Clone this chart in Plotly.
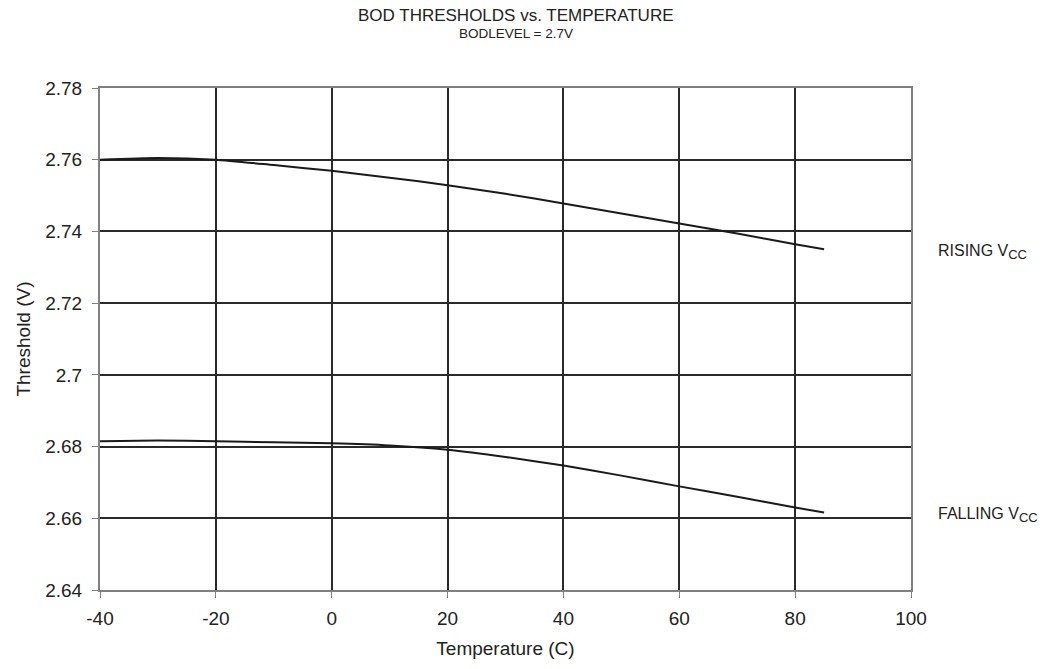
import plotly.graph_objects as go

# temperature (C) and threshold (V)
temp_rising = [-40, -30, -20, -10, 0, 10, 20, 30, 40, 50, 60, 70, 80, 85]
v_rising = [2.7600, 2.7605, 2.7600, 2.7585, 2.7569, 2.7550, 2.7529, 2.7505, 2.7478, 2.7450, 2.7422, 2.7394, 2.7364, 2.7350]

temp_falling = [-40, -30, -20, -10, 0, 10, 20, 30, 40, 50, 60, 70, 80, 85]
v_falling = [2.6815, 2.6817, 2.6815, 2.6812, 2.6809, 2.6803, 2.6791, 2.6771, 2.6747, 2.6719, 2.6689, 2.6660, 2.6630, 2.6616]

x_ticks = [-40, -20, 0, 20, 40, 60, 80, 100]
y_ticks = [2.64, 2.66, 2.68, 2.7, 2.72, 2.74, 2.76, 2.78]
y_tick_text = ["2.64", "2.66", "2.68", "2.7", "2.72", "2.74", "2.76", "2.78"]

FONT = "Arial, Liberation Sans, sans-serif"
TEXT = "#222222"
GRID = "#2a2a2a"
FRAME = "#808080"

fig = go.Figure()
for xs, ys, name in [(temp_rising, v_rising, "Rising"), (temp_falling, v_falling, "Falling")]:
    fig.add_trace(
        go.Scatter(
            x=xs,
            y=ys,
            mode="lines",
            name=name,
            line=dict(color="#1a1a1a", width=2, shape="spline", smoothing=0.6),
            showlegend=False,
        )
    )

fig.update_layout(
    width=1058,
    height=669,
    paper_bgcolor="#ffffff",
    plot_bgcolor="#ffffff",
    font=dict(family=FONT, size=19, color=TEXT),
    margin=dict(l=92, r=155, t=80, b=87),
    showlegend=False,
)

fig.update_xaxes(
    range=[-40, 100],
    tickvals=x_ticks,
    ticktext=[str(t) for t in x_ticks],
    showgrid=True,
    gridcolor=GRID,
    gridwidth=1.6,
    zeroline=False,
    showline=True,
    linecolor=FRAME,
    linewidth=2,
    mirror=True,
    ticks="outside",
    ticklen=6,
    tickcolor=FRAME,
    ticklabelstandoff=4,
    title=dict(text="Temperature (C)", font=dict(size=19), standoff=14),
)
fig.update_yaxes(
    range=[2.64, 2.78],
    tickvals=y_ticks,
    ticktext=y_tick_text,
    showgrid=True,
    gridcolor=GRID,
    gridwidth=1.6,
    zeroline=False,
    showline=True,
    linecolor=FRAME,
    linewidth=2,
    mirror=True,
    ticks="outside",
    ticklen=6,
    tickcolor=FRAME,
    ticklabelstandoff=6,
    title=dict(text="Threshold (V)", font=dict(size=19), standoff=10),
)

# title and subtitle as separate lines above the plot
fig.add_annotation(
    text="BOD THRESHOLDS vs. TEMPERATURE",
    xref="paper", yref="paper", x=0.513, y=1.145,
    xanchor="center", yanchor="middle", showarrow=False,
    font=dict(family=FONT, size=17, color=TEXT),
)
fig.add_annotation(
    text="BODLEVEL = 2.7V",
    xref="paper", yref="paper", x=0.513, y=1.108,
    xanchor="center", yanchor="middle", showarrow=False,
    font=dict(family=FONT, size=13.5, color=TEXT),
)

for label, yv in [("RISING V<sub><span style='font-size:13px'>CC</span></sub>", 2.7343),
                  ("FALLING V<sub><span style='font-size:13px'>CC</span></sub>", 2.6609)]:
    fig.add_annotation(
        text=label,
        xref="paper",
        yref="y",
        x=1.031,
        y=yv,
        xanchor="left",
        yanchor="middle",
        showarrow=False,
        font=dict(family=FONT, size=16, color=TEXT),
    )

fig.write_html("out.html")
